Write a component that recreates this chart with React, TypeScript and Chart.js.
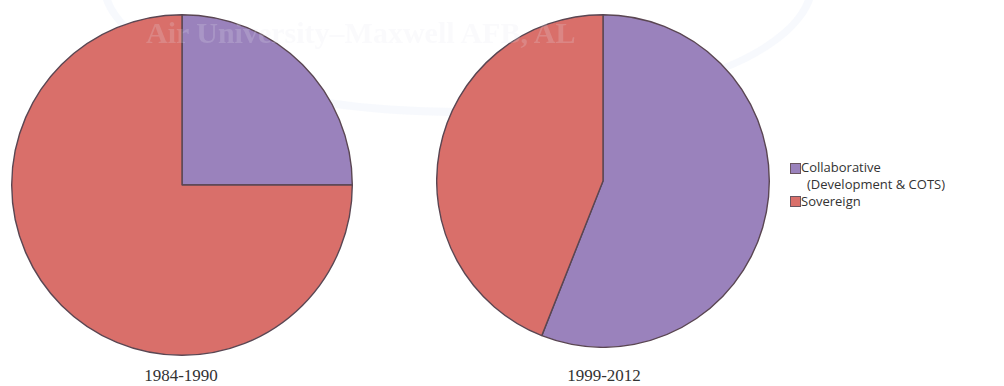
import React, { useEffect, useRef } from "react";
import { Chart, registerables } from "chart.js";

Chart.register(...registerables);

const categories = ["Collaborative (Development & COTS)", "Sovereign"];
const legendLines = [["Collaborative", "(Development & COTS)"], ["Sovereign"]];
const periods = ["1984-1990", "1999-2012"];
const values1984 = [25, 75];
const values1999 = [56, 44];
const colors = ["#9A82BC", "#D96F6A"];
const watermark = "Air University–Maxwell AFB, AL";

function Pie({ values, left, top, size }: { values: number[]; left: number; top: number; size: number }) {
  const ref = useRef<HTMLCanvasElement>(null);
  useEffect(() => {
    if (!ref.current) return;
    const chart = new Chart(ref.current, {
      type: "pie",
      data: {
        labels: categories,
        datasets: [
          {
            data: values,
            backgroundColor: colors,
            borderColor: "#5a4652",
            borderWidth: 1.4,
          },
        ],
      },
      options: {
        animation: false,
        responsive: false,
        maintainAspectRatio: false,
        layout: { padding: 0 },
        plugins: { legend: { display: false }, tooltip: { enabled: false } },
      },
    });
    return () => chart.destroy();
  }, []);
  return (
    <canvas
      ref={ref}
      width={size}
      height={size}
      style={{ position: "absolute", left, top, width: size, height: size }}
    />
  );
}

export default function App() {
  const labelStyle: React.CSSProperties = {
    position: "absolute",
    top: 366,
    width: 200,
    textAlign: "center",
    fontFamily: "'Liberation Serif', 'Times New Roman', serif",
    fontSize: 17,
    color: "#333",
  };
  const legendText: React.CSSProperties = {
    position: "absolute",
    fontFamily: "'Open Sans', 'DejaVu Sans', sans-serif",
    fontSize: 13,
    color: "#333",
    whiteSpace: "nowrap",
    lineHeight: "17px",
  };
  const marker = (c: string, top: number): React.CSSProperties => ({
    position: "absolute",
    left: 790,
    top,
    width: 9,
    height: 9,
    background: c,
    border: "1px solid #6a5560",
  });
  return (
    <div style={{ position: "absolute", left: 0, top: 0, width: 1004, height: 386, background: "#fff", overflow: "hidden" }}>
      <div
        style={{
          position: "absolute",
          left: 100,
          top: -150,
          width: 700,
          height: 250,
          borderRadius: "50%",
          border: "8px solid rgba(225,232,248,0.25)",
        }}
      />
      <Pie values={values1984} left={11} top={14} size={342} />
      <Pie values={values1999} left={436} top={14} size={334} />
      <div
        style={{
          position: "absolute",
          left: 146,
          top: 16,
          fontFamily: "'Liberation Serif', serif",
          fontWeight: "bold",
          fontSize: 30,
          color: "rgba(232,232,240,0.2)",
          whiteSpace: "nowrap",
        }}
      >
        {watermark}
      </div>
      <div style={{ ...labelStyle, left: 81 }}>{periods[0]}</div>
      <div style={{ ...labelStyle, left: 504 }}>{periods[1]}</div>
      <div style={marker(colors[0], 163)} />
      <div style={{ ...legendText, left: 801, top: 159 }}>
        {legendLines[0][0]}
        <br />
        <span style={{ marginLeft: 6 }}>{legendLines[0][1]}</span>
      </div>
      <div style={marker(colors[1], 196)} />
      <div style={{ ...legendText, left: 801, top: 193 }}>{legendLines[1][0]}</div>
    </div>
  );
}
